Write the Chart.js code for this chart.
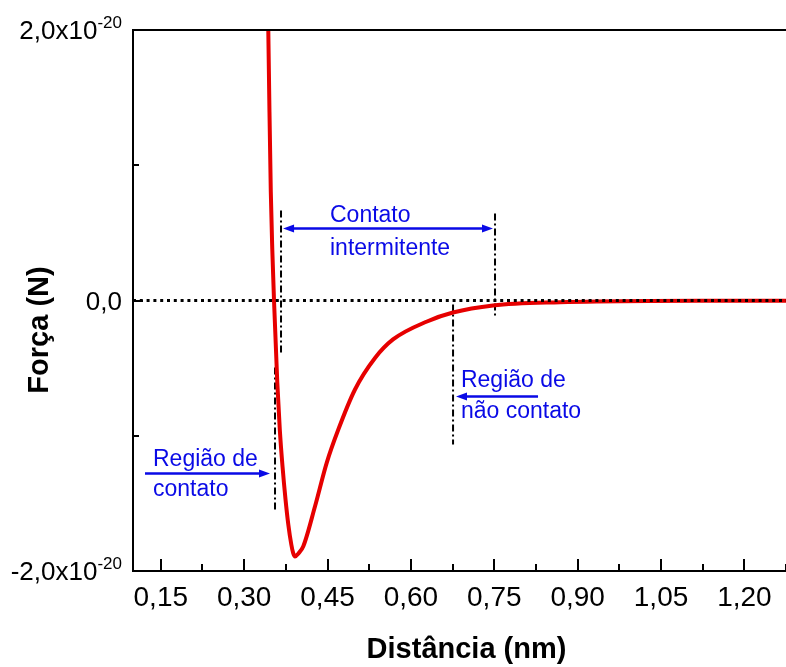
<!DOCTYPE html>
<html>
<head>
<meta charset="utf-8">
<script src="https://cdn.jsdelivr.net/npm/chart.js@4.4.1/dist/chart.umd.min.js"></script>
<style>
  html, body { margin: 0; padding: 0; background: #fff; overflow: hidden; }
  #wrap { width: 800px; height: 667px; }
</style>
</head>
<body>
<div id="wrap"><canvas id="forceChart" width="800" height="667"></canvas></div>
<script>
// Curva força x distância ponta-amostra
// força em unidades de 1e-20 N
const distancia = [0.3414, 0.3434, 0.3452, 0.3479, 0.3506, 0.3537, 0.3596, 0.3641, 0.3690, 0.3744,
                   0.3794, 0.3848, 0.3882, 0.3915, 0.3978, 0.4064, 0.4275, 0.4485, 0.4694, 0.4994,
                   0.5354, 0.5678, 0.6290, 0.6757, 0.7477, 0.8683, 1.030, 1.15, 1.30];
const forca = [2.6, 2.004, 1.486, 0.806, 0.377, 0.0, -0.606, -0.954, -1.227, -1.471,
               -1.656, -1.804, -1.868, -1.893, -1.870, -1.817, -1.521, -1.200, -0.954, -0.658,
               -0.425, -0.288, -0.155, -0.089, -0.037, -0.0126, -0.003, -0.002, -0.001];

const xMajor = [0.15, 0.30, 0.45, 0.60, 0.75, 0.90, 1.05, 1.20];
const xMinor = [0.225, 0.375, 0.525, 0.675, 0.825, 0.975, 1.125, 1.275];
const yMajor = [-2, 0, 2];
const yMinor = [-1, 1];
const yMantissa = ['-2,0x10', '0,0', '2,0x10'];
const yExpoente = ['-20', '', '-20'];

// linhas traço-ponto verticais
const guiaX = [0.3555, 0.3663, 0.7513, 0.6758];
const guiaY0 = [-0.495, 0.665, 0.643, -0.030];
const guiaY1 = [-1.545, -0.384, -0.126, -1.065];

// setas azuis (ponta em x1; dupla = ponta nas duas extremidades)
const setaX0 = [0.370, 0.8287, 0.1216];
const setaX1 = [0.7477, 0.6811, 0.3465];
const setaY = [0.532, -0.710, -1.279];
const setaDupla = [true, false, false];

// textos das regiões (x = início do texto, y = linha de base)
const notaTexto = ['Contato', 'intermitente', 'Região de', 'não contato', 'Região de', 'contato'];
const notaX = [0.4544, 0.4544, 0.690, 0.690, 0.136, 0.136];
const notaY = [0.577, 0.340, -0.636, -0.872, -1.220, -1.449];

const AZUL = '#0a0ae6';
const VERMELHO = '#e60000';

function fontAvailable(name) {
    const c = document.createElement('canvas').getContext('2d');
    const probe = 'Distância 0,15 mmmWWW';
    c.font = '40px monospace';
    const w1 = c.measureText(probe).width;
    c.font = '40px "' + name + '", monospace';
    return Math.abs(c.measureText(probe).width - w1) > 1;
}
const NARROW = fontAvailable('Liberation Sans Narrow');
const FAM = NARROW ? '"Liberation Sans Narrow", "Liberation Sans", Arial, sans-serif'
                   : '"Liberation Sans", Arial, sans-serif';
const SZ = NARROW ? { tick: 34, yTick: 31, sup: 20, title: 35 }
                  : { tick: 28, yTick: 26, sup: 17, title: 29 };

function fmt(v) { return v.toFixed(2).replace('.', ','); }

// --- desenhos extras: borda superior, ticks internos, rótulos do eixo y, setas e textos ---
const extras = {
    id: 'extras',
    afterDatasetsDraw(chart) {
        const { ctx, chartArea: a, scales: { x, y } } = chart;
        ctx.save();
        ctx.strokeStyle = '#000';
        ctx.lineWidth = 2;
        ctx.beginPath();
        ctx.moveTo(a.left - 1, a.top);
        ctx.lineTo(a.right, a.top);
        ctx.stroke();

        // ticks do eixo x (para dentro)
        const tickX = (v, len) => {
            const px = Math.round(x.getPixelForValue(v));
            ctx.beginPath();
            ctx.moveTo(px, a.bottom);
            ctx.lineTo(px, a.bottom - len);
            ctx.stroke();
        };
        xMajor.forEach(v => tickX(v, 12));
        xMinor.forEach(v => tickX(v, 7));
        const tickY = (v, len) => {
            const py = Math.round(y.getPixelForValue(v));
            ctx.beginPath();
            ctx.moveTo(a.left, py);
            ctx.lineTo(a.left + len, py);
            ctx.stroke();
        };
        yMajor.forEach(v => tickY(v, 10));
        yMinor.forEach(v => tickY(v, 6));

        // rótulos do eixo y com expoente sobrescrito
        ctx.fillStyle = '#000';
        ctx.textAlign = 'right';
        ctx.textBaseline = 'alphabetic';
        const right = a.left - 11;
        const cap = SZ.yTick * 0.716;
        yMajor.forEach((v, i) => {
            const py = y.getPixelForValue(v);
            let xr = right;
            if (yExpoente[i]) {
                ctx.font = SZ.sup + 'px ' + FAM;
                ctx.fillText(yExpoente[i], xr, py - cap / 2 - 5 + SZ.sup * 0.716);
                xr -= ctx.measureText(yExpoente[i]).width;
            }
            ctx.font = SZ.yTick + 'px ' + FAM;
            ctx.fillText(yMantissa[i], xr, py + cap / 2);
        });

        // título do eixo y
        ctx.save();
        ctx.translate(40, 330);
        ctx.rotate(-Math.PI / 2);
        ctx.textAlign = 'center';
        ctx.textBaseline = 'middle';
        ctx.font = 'bold ' + SZ.title + 'px ' + FAM;
        ctx.fillText('Força (N)', 0, 0);
        ctx.restore();

        // setas azuis
        ctx.strokeStyle = AZUL;
        ctx.fillStyle = AZUL;
        ctx.lineWidth = 2.5;
        const head = (xp, yp, dir) => {
            ctx.beginPath();
            ctx.moveTo(xp, yp);
            ctx.lineTo(xp - dir * 11, yp - 4);
            ctx.lineTo(xp - dir * 11, yp + 4);
            ctx.closePath();
            ctx.fill();
        };
        setaX0.forEach((x0v, i) => {
            const x0 = x.getPixelForValue(x0v);
            const x1 = x.getPixelForValue(setaX1[i]);
            const yp = y.getPixelForValue(setaY[i]);
            const dir = x1 > x0 ? 1 : -1;
            ctx.beginPath();
            ctx.moveTo(x0 + (setaDupla[i] ? dir * 6 : 0), yp);
            ctx.lineTo(x1 - dir * 6, yp);
            ctx.stroke();
            head(x1, yp, dir);
            if (setaDupla[i]) head(x0, yp, -dir);
        });

        // textos
        ctx.textAlign = 'left';
        ctx.textBaseline = 'alphabetic';
        ctx.font = '23px "Liberation Sans", Arial, sans-serif';
        notaTexto.forEach((t, i) => {
            ctx.fillText(t, x.getPixelForValue(notaX[i]), y.getPixelForValue(notaY[i]));
        });
        ctx.restore();
    }
};

const curva = distancia.map((d, i) => ({ x: d, y: forca[i] }));
const guias = guiaX.map((gx, i) => ({
    data: [{ x: gx, y: guiaY0[i] }, { x: gx, y: guiaY1[i] }],
    borderColor: '#000',
    borderWidth: 2,
    borderDash: [7, 3, 2, 3],
    pointRadius: 0
}));

const ctx = document.getElementById('forceChart').getContext('2d');
const chart = new Chart(ctx, {
    type: 'line',
    data: {
        datasets: [
            {
                // linha pontilhada em força zero
                data: [{ x: 0.10, y: 0 }, { x: 1.30, y: 0 }],
                borderColor: '#000',
                borderWidth: 3,
                borderDash: [3, 3.8],
                pointRadius: 0
            },
            {
                data: curva,
                borderColor: VERMELHO,
                borderWidth: 4,
                pointRadius: 0,
                cubicInterpolationMode: 'monotone'
            },
            ...guias
        ]
    },
    options: {
        responsive: false,
        animation: false,
        layout: { padding: { top: 30, left: 0, right: 0, bottom: 0 } },
        plugins: { legend: { display: false }, tooltip: { enabled: false } },
        scales: {
            x: {
                type: 'linear',
                min: 0.10,
                max: 1.30,
                afterFit: s => { s.height = 96; },
                afterBuildTicks: s => {
                    s.ticks = [...xMajor, ...xMinor].sort((p, q) => p - q).map(v => ({ value: v }));
                },
                grid: { display: false, drawTicks: false },
                border: { display: true, color: '#000', width: 2 },
                ticks: {
                    autoSkip: false,
                    maxRotation: 0,
                    padding: 10,
                    color: '#000',
                    font: { family: FAM, size: SZ.tick },
                    callback: v => xMajor.some(m => Math.abs(m - v) < 1e-6) ? fmt(v) : ''
                },
                title: {
                    display: true,
                    text: 'Distância (nm)',
                    color: '#000',
                    padding: 0,
                    font: { family: FAM, size: SZ.title, weight: 'bold' }
                }
            },
            y: {
                type: 'linear',
                min: -2,
                max: 2,
                afterFit: s => { s.width = 133; },
                afterBuildTicks: s => {
                    s.ticks = [-2, -1, 0, 1, 2].map(v => ({ value: v }));
                },
                grid: { display: false, drawTicks: false },
                border: { display: true, color: '#000', width: 2 },
                ticks: { display: false }
            }
        }
    },
    plugins: [extras]
});
</script>
</body>
</html>
